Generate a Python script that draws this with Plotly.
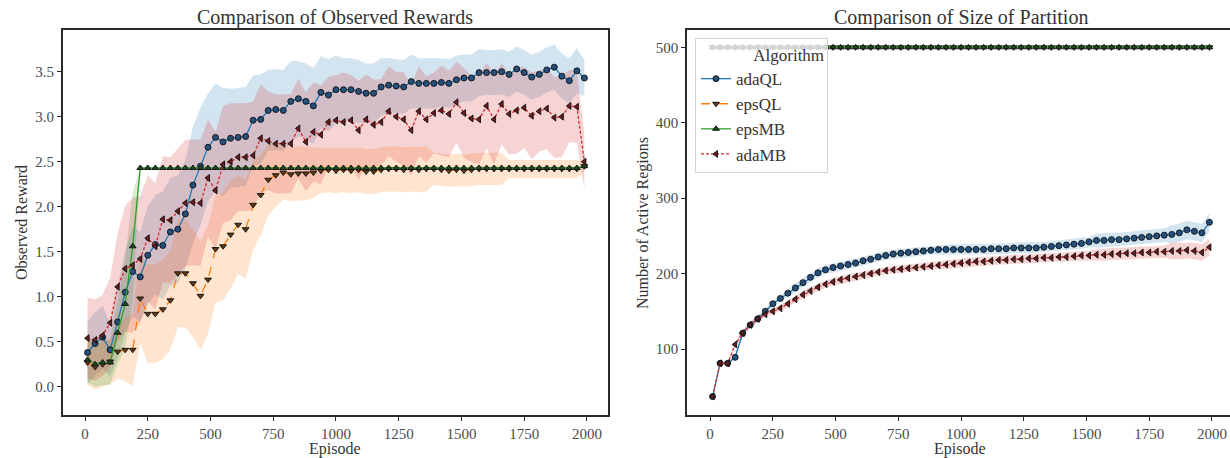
import plotly.graph_objects as go

# ---------------- data ----------------
episodes = [10, 40, 70, 100, 130, 160, 190, 220, 250, 280, 310, 340, 370, 400, 430, 460, 490,
            520, 550, 580, 610, 640, 670, 700, 730, 760, 790, 820, 850, 880, 910, 940, 970,
            1000, 1030, 1060, 1090, 1120, 1150, 1180, 1210, 1240, 1270, 1300, 1330, 1360, 1390,
            1420, 1450, 1480, 1510, 1540, 1570, 1600, 1630, 1660, 1690, 1720, 1750, 1780, 1810,
            1840, 1870, 1900, 1930, 1960, 1990]

algorithms = ["adaQL", "epsQL", "epsMB", "adaMB"]

reward_adaQL = [0.38, 0.48, 0.55, 0.41, 0.72, 1.05, 1.28, 1.22, 1.46, 1.58,
                1.57, 1.72, 1.75, 1.92, 2.24, 2.45, 2.66, 2.77, 2.72, 2.76,
                2.77, 2.78, 2.96, 2.97, 3.07, 3.08, 3.07, 3.17, 3.20, 3.17,
                3.12, 3.27, 3.24, 3.30, 3.30, 3.30, 3.28, 3.26, 3.26, 3.33,
                3.35, 3.34, 3.33, 3.39, 3.37, 3.37, 3.37, 3.38, 3.37, 3.41,
                3.43, 3.43, 3.49, 3.49, 3.49, 3.50, 3.47, 3.53, 3.49, 3.44,
                3.47, 3.52, 3.55, 3.45, 3.40, 3.51, 3.43]
reward_epsQL = [0.27, 0.22, 0.25, 0.28, 0.39, 0.41, 0.41, 0.98, 0.81, 0.81,
                0.86, 0.96, 1.26, 1.26, 1.15, 1.01, 1.19, 1.53, 1.56, 1.69,
                1.80, 1.75, 2.02, 2.13, 2.30, 2.35, 2.38, 2.36, 2.37, 2.37,
                2.38, 2.40, 2.41, 2.40, 2.41, 2.40, 2.41, 2.39, 2.39, 2.41,
                2.42, 2.42, 2.41, 2.42, 2.41, 2.42, 2.42, 2.41, 2.40, 2.41,
                2.40, 2.41, 2.42, 2.42, 2.42, 2.42, 2.42, 2.42, 2.42, 2.42,
                2.42, 2.42, 2.42, 2.42, 2.42, 2.42, 2.45]
reward_epsMB = [0.30, 0.25, 0.27, 0.27, 0.60, 0.92, 1.56, 2.43, 2.43, 2.43,
                2.43, 2.43, 2.43, 2.43, 2.43, 2.43, 2.43, 2.43, 2.43, 2.43,
                2.43, 2.43, 2.43, 2.43, 2.43, 2.43, 2.43, 2.43, 2.43, 2.43,
                2.43, 2.43, 2.43, 2.43, 2.43, 2.43, 2.43, 2.43, 2.43, 2.43,
                2.43, 2.43, 2.43, 2.43, 2.43, 2.43, 2.43, 2.43, 2.43, 2.43,
                2.43, 2.43, 2.43, 2.43, 2.43, 2.43, 2.43, 2.43, 2.43, 2.43,
                2.43, 2.43, 2.43, 2.43, 2.43, 2.43, 2.45]
reward_adaMB = [0.54, 0.52, 0.57, 0.71, 1.11, 1.31, 1.35, 1.42, 1.65, 1.56,
                1.86, 1.85, 1.95, 2.04, 2.05, 2.04, 2.32, 2.18, 2.47, 2.50,
                2.55, 2.55, 2.57, 2.76, 2.73, 2.70, 2.70, 2.70, 2.87, 2.72,
                2.83, 2.80, 2.94, 2.96, 2.94, 2.96, 2.85, 2.97, 2.91, 2.94,
                3.06, 3.00, 2.97, 2.85, 3.06, 2.97, 3.04, 3.07, 3.03, 3.16,
                3.04, 2.98, 2.97, 3.12, 2.97, 3.14, 3.03, 3.07, 3.10, 3.01,
                3.06, 3.09, 2.99, 3.00, 3.12, 3.11, 2.50]

# confidence half-widths (reward)
ci_reward_adaQL = [0.35, 0.35, 0.35, 0.30, 0.40, 0.45, 0.50, 0.50, 0.55, 0.55,
                   0.60, 0.60, 0.60, 0.60, 0.65, 0.65, 0.60, 0.60, 0.60, 0.55,
                   0.55, 0.55, 0.50, 0.50, 0.45, 0.45, 0.45, 0.45, 0.42, 0.42,
                   0.42, 0.40, 0.40, 0.38, 0.35, 0.35, 0.35, 0.33, 0.33, 0.32,
                   0.30, 0.30, 0.30, 0.30, 0.28, 0.28, 0.28, 0.27, 0.27, 0.27,
                   0.26, 0.26, 0.26, 0.25, 0.25, 0.25, 0.25, 0.25, 0.25, 0.25,
                   0.25, 0.25, 0.25, 0.25, 0.25, 0.25, 0.20]
ci_reward_epsQL = [0.25, 0.25, 0.25, 0.25, 0.30, 0.35, 0.40, 0.50, 0.55, 0.55,
                   0.55, 0.55, 0.60, 0.60, 0.60, 0.60, 0.60, 0.60, 0.60, 0.60,
                   0.55, 0.55, 0.50, 0.45, 0.40, 0.35, 0.30, 0.30, 0.30, 0.30,
                   0.28, 0.25, 0.25, 0.25, 0.25, 0.25, 0.25, 0.25, 0.25, 0.25,
                   0.25, 0.25, 0.25, 0.25, 0.25, 0.25, 0.18, 0.18, 0.18, 0.18,
                   0.18, 0.18, 0.18, 0.18, 0.18, 0.18, 0.10, 0.10, 0.10, 0.10,
                   0.10, 0.10, 0.10, 0.10, 0.10, 0.10, 0.05]
ci_reward_epsMB = [0.25, 0.25, 0.25, 0.25, 0.35, 0.50, 0.60, 0.0, 0.0, 0.0,
                   0.0, 0.0, 0.0, 0.0, 0.0, 0.0, 0.0, 0.0, 0.0, 0.0,
                   0.0, 0.0, 0.0, 0.0, 0.0, 0.0, 0.0, 0.0, 0.0, 0.0,
                   0.0, 0.0, 0.0, 0.0, 0.0, 0.0, 0.0, 0.0, 0.0, 0.0,
                   0.0, 0.0, 0.0, 0.0, 0.0, 0.0, 0.0, 0.0, 0.0, 0.0,
                   0.0, 0.0, 0.0, 0.0, 0.0, 0.0, 0.0, 0.0, 0.0, 0.0,
                   0.0, 0.0, 0.0, 0.0, 0.0, 0.0, 0.0]
ci_reward_adaMB = [0.45, 0.45, 0.45, 0.50, 0.60, 0.70, 0.75, 0.70, 0.70, 0.70,
                   0.70, 0.70, 0.70, 0.70, 0.70, 0.70, 0.65, 0.65, 0.65, 0.65,
                   0.60, 0.60, 0.60, 0.60, 0.55, 0.55, 0.55, 0.55, 0.55, 0.55,
                   0.55, 0.55, 0.50, 0.50, 0.55, 0.50, 0.55, 0.50, 0.50, 0.48,
                   0.50, 0.50, 0.52, 0.50, 0.50, 0.48, 0.45, 0.50, 0.48, 0.45,
                   0.50, 0.48, 0.50, 0.48, 0.50, 0.45, 0.45, 0.48, 0.45, 0.48,
                   0.45, 0.45, 0.45, 0.45, 0.40, 0.40, 0.30]

regions_adaQL = [37, 81, 81, 89, 121, 132, 140, 150, 160, 167,
                 174, 181, 188, 195, 201, 205, 208, 210, 212, 214,
                 217, 219, 222, 224, 226, 227, 228, 229, 230, 231,
                 232, 232, 232, 232, 232, 232, 232, 233, 233, 233,
                 234, 234, 234, 234, 235, 236, 237, 238, 239, 240,
                 242, 244, 244, 245, 245, 246, 247, 248, 249, 250,
                 251, 252, 254, 258, 256, 254, 268]
regions_epsQL = [500, 500, 500, 500, 500, 500, 500, 500, 500, 500,
                 500, 500, 500, 500, 500, 500, 500, 500, 500, 500,
                 500, 500, 500, 500, 500, 500, 500, 500, 500, 500,
                 500, 500, 500, 500, 500, 500, 500, 500, 500, 500,
                 500, 500, 500, 500, 500, 500, 500, 500, 500, 500,
                 500, 500, 500, 500, 500, 500, 500, 500, 500, 500,
                 500, 500, 500, 500, 500, 500, 500]
regions_epsMB = [500, 500, 500, 500, 500, 500, 500, 500, 500, 500,
                 500, 500, 500, 500, 500, 500, 500, 500, 500, 500,
                 500, 500, 500, 500, 500, 500, 500, 500, 500, 500,
                 500, 500, 500, 500, 500, 500, 500, 500, 500, 500,
                 500, 500, 500, 500, 500, 500, 500, 500, 500, 500,
                 500, 500, 500, 500, 500, 500, 500, 500, 500, 500,
                 500, 500, 500, 500, 500, 500, 500]
regions_adaMB = [37, 81, 81, 106, 121, 132, 140, 146, 150, 154,
                 160, 166, 172, 177, 182, 186, 189, 192, 194, 196,
                 198, 200, 202, 204, 205, 206, 207, 208, 209, 210,
                 211, 212, 213, 214, 215, 216, 216, 217, 218, 218,
                 219, 219, 220, 220, 221, 221, 222, 222, 223, 224,
                 224, 225, 225, 226, 226, 227, 227, 228, 228, 229,
                 229, 230, 230, 231, 230, 228, 235]

ci_regions_adaQL = [2, 2, 2, 3, 4, 4, 4, 4, 4, 4,
                    4, 6, 6, 6, 6, 6, 6, 6, 6, 6,
                    6, 6, 6, 6, 6, 6, 6, 6, 6, 6,
                    6, 7, 7, 7, 7, 7, 7, 7, 7, 7,
                    7, 7, 7, 7, 7, 7, 7, 7, 7, 7,
                    7, 9, 9, 9, 9, 9, 9, 9, 9, 9,
                    9, 12, 12, 12, 12, 12, 12]
ci_regions_eps = [0, 0, 0, 0, 0, 0, 0, 0, 0, 0,
                  0, 0, 0, 0, 0, 0, 0, 0, 0, 0,
                  0, 0, 0, 0, 0, 0, 0, 0, 0, 0,
                  0, 0, 0, 0, 0, 0, 0, 0, 0, 0,
                  0, 0, 0, 0, 0, 0, 0, 0, 0, 0,
                  0, 0, 0, 0, 0, 0, 0, 0, 0, 0,
                  0, 0, 0, 0, 0, 0, 0]
ci_regions_adaMB = [2, 2, 2, 3, 4, 4, 4, 4, 4, 4,
                    4, 5, 5, 5, 5, 5, 5, 5, 5, 5,
                    5, 5, 5, 5, 5, 5, 5, 5, 5, 5,
                    5, 6, 6, 6, 6, 6, 6, 6, 6, 6,
                    6, 6, 6, 6, 6, 6, 6, 6, 6, 6,
                    6, 8, 8, 8, 8, 8, 8, 8, 8, 8,
                    8, 11, 11, 11, 11, 11, 11]

x_ticks = [0, 250, 500, 750, 1000, 1250, 1500, 1750, 2000]
reward_ticks = [0.0, 0.5, 1.0, 1.5, 2.0, 2.5, 3.0, 3.5]
region_ticks = [100, 200, 300, 400, 500]

# ---------------- styles ----------------
colors = {"adaQL": (31, 119, 180), "epsQL": (255, 127, 14),
          "epsMB": (44, 160, 44), "adaMB": (214, 39, 40)}
marker_fill = {"adaQL": "#24507a", "epsQL": "#5e3a14", "epsMB": "#1f4a1f", "adaMB": "#6a1c1e"}
symbols = {"adaQL": "circle", "epsQL": "triangle-down",
           "epsMB": "triangle-up", "adaMB": "triangle-left"}
dashes = {"adaQL": "solid", "epsQL": "dash", "epsMB": "solid", "adaMB": "3px,2px"}

reward_data = {"adaQL": (reward_adaQL, ci_reward_adaQL), "epsQL": (reward_epsQL, ci_reward_epsQL),
               "epsMB": (reward_epsMB, ci_reward_epsMB), "adaMB": (reward_adaMB, ci_reward_adaMB)}
region_data = {"adaQL": (regions_adaQL, ci_regions_adaQL), "epsQL": (regions_epsQL, ci_regions_eps),
               "epsMB": (regions_epsMB, ci_regions_eps), "adaMB": (regions_adaMB, ci_regions_adaMB)}

FONT = "Liberation Serif, Times New Roman, serif"
W, H = 1230, 458

fig = go.Figure()


def add_panel(data, xa, ya, show_legend):
    for alg in algorithms:
        mean, ci = data[alg]
        if max(ci) == 0:
            continue
        r, g, b = colors[alg]
        upper = [m + c for m, c in zip(mean, ci)]
        lower = [m - c for m, c in zip(mean, ci)]
        fig.add_trace(go.Scatter(
            x=episodes + episodes[::-1], y=upper + lower[::-1],
            fill="toself", fillcolor=f"rgba({r},{g},{b},0.2)",
            line=dict(width=0), mode="lines", hoverinfo="skip",
            showlegend=False, xaxis=xa, yaxis=ya))
    for alg in algorithms:
        mean, _ = data[alg]
        r, g, b = colors[alg]
        fig.add_trace(go.Scatter(
            x=episodes, y=mean, mode="lines+markers", name=alg,
            legendgroup=alg, showlegend=show_legend,
            line=dict(color=f"rgb({r},{g},{b})", width=1.3, dash=dashes[alg]),
            marker=dict(symbol=symbols[alg], size=6, color=marker_fill[alg],
                        line=dict(color="rgba(15,15,15,0.9)", width=1)),
            xaxis=xa, yaxis=ya))


add_panel(reward_data, "x", "y", False)
add_panel(region_data, "x2", "y2", True)

axis_common = dict(showgrid=False, zeroline=False, showline=True, linecolor="#2a2a2a",
                   linewidth=1.5, ticks="outside", ticklen=4, tickwidth=1.2,
                   tickcolor="#2a2a2a", tickfont=dict(family=FONT, size=15, color="#4a4a4a"))

y_dom = [1 - 415 / H, 1 - 30 / H]

fig.update_layout(
    width=W, height=H, margin=dict(l=0, r=0, t=0, b=0),
    paper_bgcolor="white", plot_bgcolor="white",
    xaxis=dict(domain=[62.7 / W, 608 / W], range=[-89, 2084], tickvals=x_ticks,
               mirror=True, anchor="y", **axis_common),
    yaxis=dict(domain=y_dom, range=[-0.314, 3.963], tickvals=reward_ticks,
               tickformat=".1f", mirror=True, anchor="x", **axis_common),
    xaxis2=dict(domain=[687 / W, 1.0], range=[-92, 2072], tickvals=x_ticks,
                mirror=True, anchor="y2", **axis_common),
    yaxis2=dict(domain=y_dom, range=[12.5, 523], tickvals=region_ticks,
                mirror=False, anchor="x2", **axis_common),
    legend=dict(x=695 / W, y=1 - 38 / H, xanchor="left", yanchor="top",
                bgcolor="rgba(255,255,255,0.8)", bordercolor="#d5d5d5", borderwidth=1,
                font=dict(family=FONT, size=17, color="#333333"),
                title=dict(text="\u00a0" * 13 + "Algorithm", side="top",
                           font=dict(family=FONT, size=17, color="#333333")),
                tracegroupgap=0),
    showlegend=True,
)

annotations = [
    dict(text="Comparison of Observed Rewards", x=335 / W, y=1 - 17 / H, size=20),
    dict(text="Comparison of Size of Partition", x=961 / W, y=1 - 17 / H, size=20),
    dict(text="Episode", x=335 / W, y=1 - 449 / H, size=16),
    dict(text="Episode", x=960 / W, y=1 - 449 / H, size=16),
]
for a in annotations:
    fig.add_annotation(text=a["text"], x=a["x"], y=a["y"], xref="paper", yref="paper",
                       xanchor="center", yanchor="middle", showarrow=False,
                       font=dict(family=FONT, size=a["size"], color="#333333"))
for txt, xp in [("Observed Reward", 21), ("Number of Active Regions", 643)]:
    fig.add_annotation(text=txt, x=xp / W, y=1 - 223 / H, xref="paper", yref="paper",
                       xanchor="center", yanchor="middle", showarrow=False, textangle=-90,
                       font=dict(family=FONT, size=16, color="#333333"))

fig.write_html("out.html", config={"displayModeBar": False},
               post_script="document.body.style.margin='0';document.body.style.overflow='hidden';")
